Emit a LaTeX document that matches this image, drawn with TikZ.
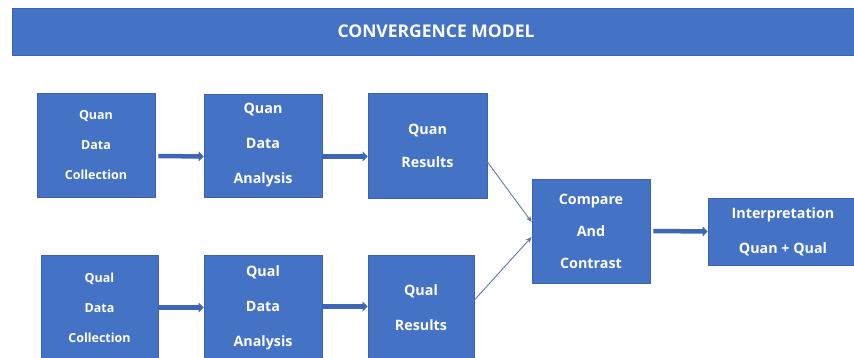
\documentclass[tikz,border=0pt]{standalone}
\usepackage{fontspec}
\setmainfont{Open Sans}
\usetikzlibrary{arrows.meta}
\definecolor{boxblue}{HTML}{4472C4}
\definecolor{edgeblue}{HTML}{3A62AE}
\definecolor{shaftblue}{HTML}{3D66B6}
\definecolor{linkblue}{HTML}{6278AC}

\begin{document}
\begin{tikzpicture}[line cap=round,line join=round,x=1pt,y=-1pt,
  blk/.style={draw=edgeblue,line width=0.8pt,fill=boxblue,text=white,align=center,inner sep=0pt},
  small/.style={blk,font=\bfseries\fontsize{12.5}{30}\selectfont},
  big/.style={blk,font=\bfseries\fontsize{14.3}{35}\selectfont},
  fat/.style={draw=shaftblue,line width=4.5pt,line cap=butt,-{Triangle[width=10pt,length=5pt]}},
  thin/.style={draw=linkblue,line width=0.9pt,-{Stealth[length=6pt,width=5pt]}}]
\clip (0,0) rectangle (854,358);
\fill[white] (0,0) rectangle (854,358);
\node[blk,minimum width=848pt,minimum height=47pt,font=\bfseries\fontsize{17.5}{20}\selectfont] (title) at (436,31.5) {CONVERGENCE MODEL};
\node[small,minimum width=118pt,minimum height=104pt] (quanCol) at (96,145) {Quan\\Data\\Collection};
\node[big,minimum width=118pt,minimum height=103pt] (quanAna) at (263,145.5) {Quan\\Data\\Analysis};
\node[big,minimum width=119pt,minimum height=105pt,font=\bfseries\fontsize{14.3}{33}\selectfont] (quanRes) at (427.5,145.5) {Quan\\Results};
\node[small,minimum width=117pt,minimum height=105pt] (qualCol) at (99.5,307.5) {Qual\\Data\\Collection};
\node[big,minimum width=118pt,minimum height=105pt] (qualAna) at (263,307.5) {Qual\\Data\\Analysis};
\node[big,minimum width=106pt,minimum height=105pt,font=\bfseries\fontsize{14.3}{35}\selectfont] (qualRes) at (421,307.5) {Qual\\Results};
\node[big,minimum width=118pt,minimum height=104pt,font=\bfseries\fontsize{14.3}{32}\selectfont] (cmp) at (591,231) {Compare\\And\\Contrast};
\node[big,minimum width=150pt,minimum height=67pt] (interp) at (783,231.5) {Interpretation\\Quan + Qual};
\draw[fat] ([xshift=3pt,yshift=-11pt]quanCol.east) -- ([yshift=-11pt]quanAna.west);
\draw[fat] ([yshift=-11pt]quanAna.east) -- ([yshift=-11pt]quanRes.west);
\draw[fat] (qualCol.east) -- (qualAna.west);
\draw[fat] ([yshift=1pt]qualAna.east) -- ([yshift=1pt]qualRes.west);
\draw[fat] ([xshift=3pt]cmp.east) -- (interp.west);
\draw[thin] ([yshift=-16.5pt]quanRes.east) -- ([yshift=9pt]cmp.west);
\draw[thin] ([yshift=7.5pt]qualRes.east) -- ([yshift=-6pt]cmp.west);
\end{tikzpicture}
\end{document}
